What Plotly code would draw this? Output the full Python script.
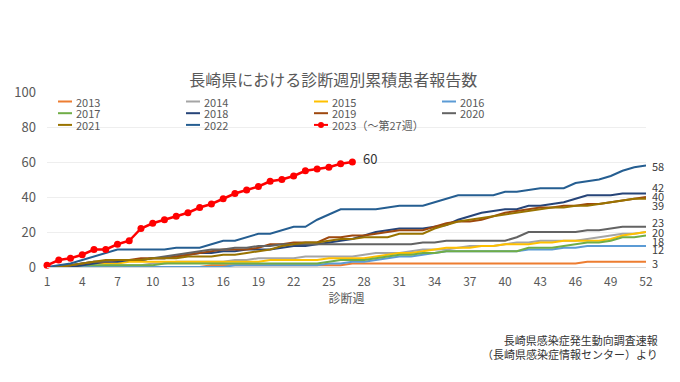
import plotly.graph_objects as go

weeks = list(range(1, 53))
tick_weeks = list(range(1, 53, 3))

y2013 = [0,0,0,0,0,0,0,0,0,0, 0,0,0,0,1,1,1,1,1,1, 1,1,1,1,1,1,2,2,2,2,
         2,2,2,2,2,2,2,2,2,2, 2,2,2,2,2,2,3,3,3,3, 3,3]
y2014 = [0,0,0,0,0,1,1,1,1,2, 2,3,3,3,3,3,4,4,5,5, 5,5,6,6,6,6,6,7,8,8,
         8,9,10,10,10,11,12,12,12,13, 14,14,15,15,15,15,16,17,18,19, 19,20]
y2015 = [0,0,1,1,2,2,2,3,3,3, 3,3,3,3,3,3,3,3,3,4, 4,4,4,4,5,5,5,5,6,7,
         8,8,9,10,11,11,11,12,12,13, 13,13,14,14,15,15,15,15,16,18, 19,20]
y2016 = [0,0,0,0,0,0,0,0,0,0, 0,0,0,0,0,0,1,1,1,1, 1,1,1,1,2,2,3,3,4,5,
         6,6,7,8,9,9,9,9,9,9, 9,10,10,10,11,11,12,12,12,12, 12,12]
y2017 = [0,0,0,1,1,1,1,1,1,1, 2,2,2,2,2,2,2,2,2,2, 2,2,2,2,3,4,4,4,5,6,
         7,7,8,8,9,9,9,9,9,9, 9,11,11,11,12,13,14,14,15,17, 17,18]
y2018 = [0,0,0,1,2,3,3,4,4,5, 5,6,7,8,8,9,9,10,10,10, 11,12,12,13,14,15,16,18,20,21,
         22,22,22,23,24,27,29,31,32,33, 33,35,35,36,37,39,41,41,41,42, 42,42]
y2019 = [0,0,1,2,3,3,4,4,5,5, 5,6,7,8,9,10,10,10,11,13, 13,14,14,14,17,17,18,18,19,20,
         21,21,21,23,25,26,26,27,29,31, 32,33,34,34,35,35,36,36,37,38, 39,40]
y2020 = [0,0,1,2,3,3,4,4,4,5, 6,7,8,9,10,10,11,11,12,12, 13,13,13,13,13,13,13,13,13,13,
         13,13,14,14,15,15,15,15,15,15, 17,20,20,20,20,20,21,21,22,23, 23,23]
y2021 = [0,0,1,2,3,4,4,4,4,5, 5,5,6,6,6,7,7,8,9,10, 12,13,14,14,15,16,16,17,17,17,
         19,19,19,22,24,26,27,28,29,30, 31,32,33,34,34,35,35,36,37,38, 39,39]
y2022 = [0,1,2,4,6,8,10,10,10,10, 10,11,11,11,13,15,15,17,19,19, 21,23,23,27,30,33,33,33,33,34,
         35,35,35,37,39,41,41,41,41,43, 43,44,45,45,45,48,49,50,52,55, 57,58]
weeks2023 = list(range(1, 28))
y2023 = [1,4,5,7,10,10,13,15,22,25, 27,29,31,34,36,39,42,44,46,49, 50,52,55,56,57,59,60]

series_names = ["2013", "2014", "2015", "2016", "2017", "2018", "2019", "2020", "2021", "2022"]
series_values = [y2013, y2014, y2015, y2016, y2017, y2018, y2019, y2020, y2021, y2022]
colors = ["#ED7D31", "#A5A5A5", "#FFC000", "#5B9BD5", "#70AD47",
          "#264478", "#9E480E", "#636363", "#997300", "#255E91"]
red = "#FF0000"

title_text = "長崎県における診断週別累積患者報告数"
name2023 = "2023（～第27週）"
xaxis_title = "診断週"
source_text = "長崎県感染症発生動向調査速報<br>（長崎県感染症情報センター）より"

FONT = "Noto Sans CJK JP, Noto Sans, sans-serif"

# plot area geometry (pixels) used for the hand-placed legend
W, H = 680, 382
ML, MR, MT, MB = 47, 34, 92, 115
PW, PH = W - ML - MR, H - MT - MB

def px_x(px):
    return (px - ML) / PW

def px_y(py):
    return (H - MB - py) / PH

fig = go.Figure()
for name, vals, col in zip(series_names, series_values, colors):
    fig.add_trace(go.Scatter(x=weeks, y=vals, name=name, mode="lines",
                             line=dict(color=col, width=2), cliponaxis=False,
                             showlegend=False))
fig.add_trace(go.Scatter(x=weeks2023, y=y2023, name=name2023, mode="lines+markers",
                         line=dict(color=red, width=2.5),
                         marker=dict(color=red, size=7), cliponaxis=False,
                         showlegend=False))

# compact legend: 4 columns x 3 rows
legend_names = series_names + [name2023]
legend_colors = colors + [red]
for i, (nm, col) in enumerate(zip(legend_names, legend_colors)):
    c, r = i % 4, i // 4
    lx0 = 58 + 128 * c
    ly = 101.5 + 11.7 * r
    fig.add_shape(type="line", xref="paper", yref="paper",
                  x0=px_x(lx0), x1=px_x(lx0 + 14), y0=px_y(ly), y1=px_y(ly),
                  line=dict(color=col, width=2))
    if nm == name2023:
        fig.add_shape(type="circle", xref="paper", yref="paper",
                      xsizemode="pixel", ysizemode="pixel",
                      xanchor=px_x(lx0 + 7), yanchor=px_y(ly),
                      x0=-3, x1=3, y0=-3, y1=3,
                      fillcolor=col, line=dict(color=col, width=0))
    fig.add_annotation(xref="paper", yref="paper", x=px_x(lx0 + 16), y=px_y(ly),
                       text=nm, xanchor="left", yanchor="middle", showarrow=False,
                       font=dict(size=11, color="#595959", family=FONT))

# end-of-line value labels (pixel nudges to avoid overlap)
label_shift = {"2022": 0, "2018": 7, "2019": 1, "2021": -6, "2020": 5,
               "2015": 0, "2017": -5, "2016": -3, "2013": -1}
for name, vals in zip(series_names, series_values):
    if name in label_shift:
        fig.add_annotation(x=weeks[-1], y=vals[-1], text=str(vals[-1]),
                           xanchor="left", yanchor="middle", xshift=4,
                           yshift=label_shift[name], showarrow=False,
                           font=dict(size=11, color="#404040", family=FONT))
fig.add_annotation(x=weeks2023[-1], y=y2023[-1], text=str(y2023[-1]),
                   xanchor="left", yanchor="middle", xshift=9, yshift=4,
                   showarrow=False, font=dict(size=13, color="#333333", family=FONT))

fig.add_annotation(xref="paper", yref="paper", x=px_x(660), y=px_y(347),
                   text=source_text, align="right", xanchor="right", yanchor="middle",
                   showarrow=False, font=dict(size=11, color="#333333", family=FONT))

fig.update_layout(
    width=W, height=H,
    margin=dict(l=ML, r=MR, t=MT, b=MB, autoexpand=False),
    paper_bgcolor="white", plot_bgcolor="white",
    font=dict(family=FONT, color="#595959"),
    title=dict(text=title_text, x=0.49, xanchor="center", y=1 - 80 / H, yanchor="middle",
               font=dict(size=16, color="#595959", family=FONT)),
    showlegend=False,
    xaxis=dict(range=[1, 52], tickmode="array", tickvals=tick_weeks,
               ticktext=[str(t) for t in tick_weeks], showgrid=False, zeroline=False,
               showline=True, linecolor="#d9d9d9", linewidth=1, automargin=False,
               tickfont=dict(size=12, color="#595959"), ticks="", ticklabelstandoff=4,
               title=dict(text=xaxis_title, font=dict(size=12, color="#595959"), standoff=4)),
    yaxis=dict(range=[0, 100], tickvals=[0, 20, 40, 60, 80, 100], showgrid=True,
               gridcolor="#eeeeee", zeroline=False, ticks="", ticklabelstandoff=10,
               automargin=False, tickfont=dict(size=13, color="#595959")),
)

fig.write_html("out.html", config={"displayModeBar": False},
               post_script="document.body.style.margin='0px';")
